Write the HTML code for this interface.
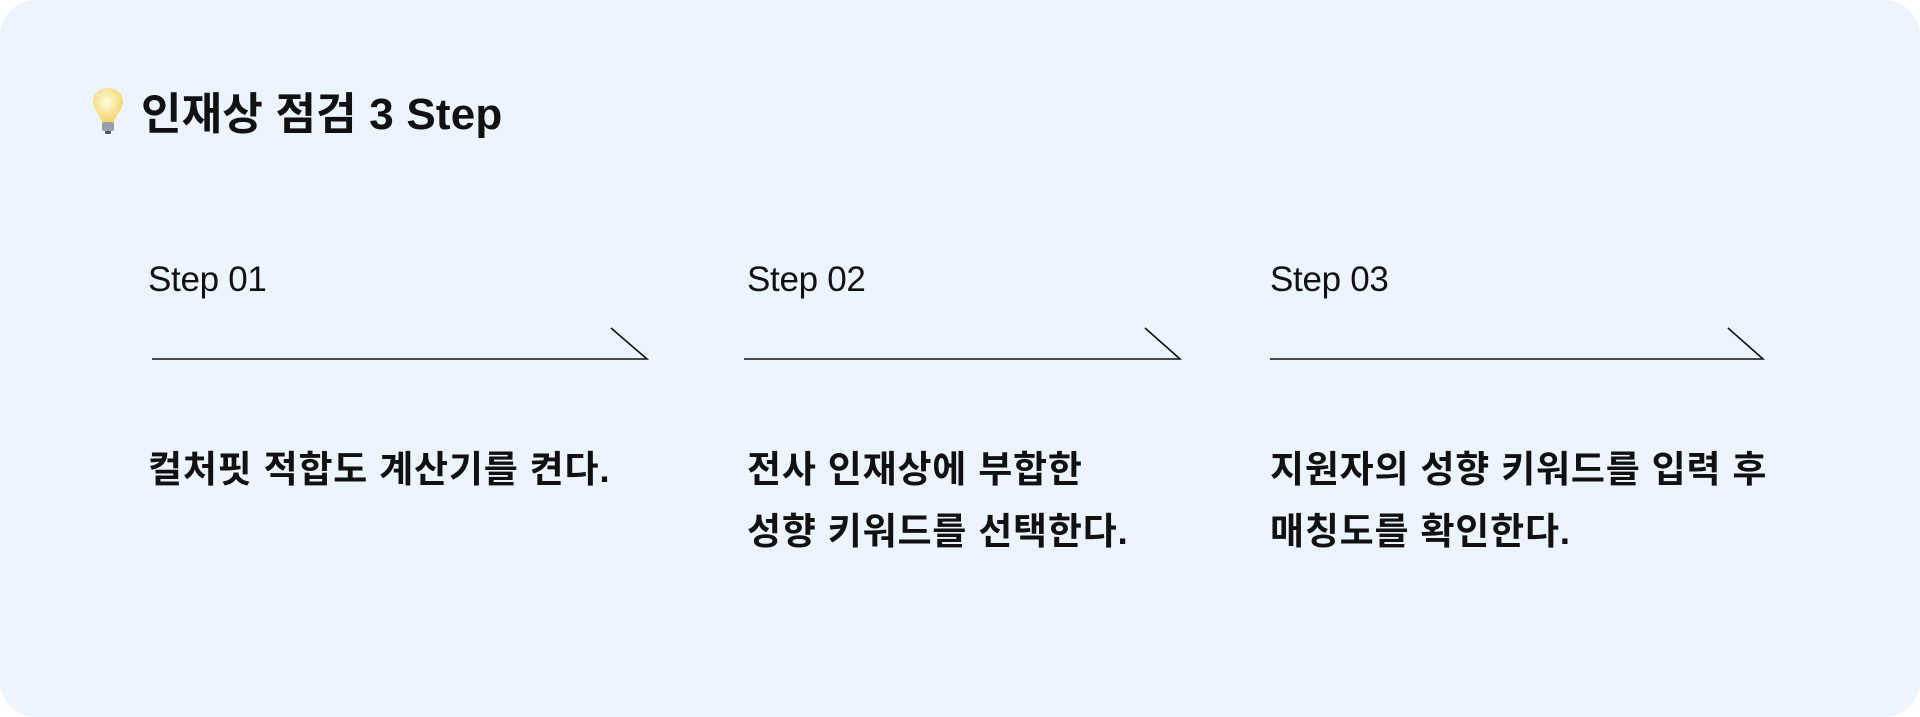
<!DOCTYPE html>
<html><head><meta charset="utf-8"><style>
html,body{margin:0;padding:0;background:#fff;}
.card{position:absolute;left:0;top:0;width:1920px;height:717px;background:#ecf4fe;border-radius:36px;overflow:hidden;font-family:"Liberation Sans","Noto Sans CJK KR",sans-serif;color:#111;}
.title{position:absolute;left:141px;top:88px;font-size:44px;font-weight:700;line-height:54px;letter-spacing:0.2px;}
.step{position:absolute;top:259px;font-size:35px;line-height:42px;letter-spacing:-0.3px;color:#111;}
.body{position:absolute;top:439px;font-size:37px;line-height:62px;font-weight:700;letter-spacing:0.8px;}
</style></head><body>
<div class="card">
<svg style="position:absolute;left:90px;top:86px" width="36" height="50" viewBox="0 0 36 50">
<defs><radialGradient id="g" cx="45%" cy="40%" r="60%"><stop offset="0" stop-color="#fffbe0"/><stop offset="1" stop-color="#f3d56a"/></radialGradient></defs>
<path d="M18 2 C8 2 3 9 3 16 C3 24 10 28 12 36 L24 36 C26 28 33 24 33 16 C33 9 28 2 18 2Z" fill="url(#g)"/>
<rect x="12" y="36" width="12" height="9" rx="2" fill="#9aa0a8"/>
<rect x="15" y="45" width="6" height="3" rx="1" fill="#555"/>
</svg>
<div class="title">인재상 점검 3 Step</div>

<div class="step" style="left:148px">Step 01</div>
<div class="step" style="left:747px">Step 02</div>
<div class="step" style="left:1270px">Step 03</div>

<svg style="position:absolute;left:0;top:0" width="1920" height="717">
<g stroke="#111" stroke-width="1.6" fill="none">
<polyline points="152,359 647,359 611,328"/>
<polyline points="744,359 1180,359 1145,328"/>
<polyline points="1270,359 1763,359 1728,328"/>
</g>
</svg>

<div class="body" style="left:148px">컬처핏 적합도 계산기를 켠다.</div>
<div class="body" style="left:747px">전사 인재상에 부합한<br>성향 키워드를 선택한다.</div>
<div class="body" style="left:1270px">지원자의 성향 키워드를 입력 후<br>매칭도를 확인한다.</div>
</div>
</body></html>
